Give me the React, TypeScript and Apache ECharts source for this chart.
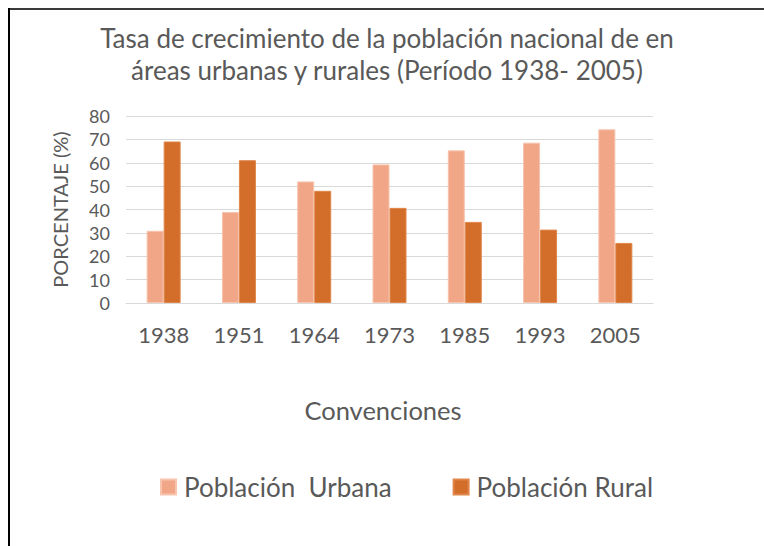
import React, { useEffect, useRef } from "react";
import * as echarts from "echarts";

const categories = ["1938", "1951", "1964", "1973", "1985", "1993", "2005"];
const urbanValues = [30.9, 38.9, 52.0, 59.3, 65.3, 68.6, 74.3];
const ruralValues = [69.1, 61.1, 48.0, 40.7, 34.7, 31.4, 25.7];
const seriesNames = ["Población  Urbana", "Población Rural"];
const yTicks = { min: 0, max: 80, interval: 10 };

const FONT = "Lato, 'Liberation Sans', sans-serif";
const TEXT = "#595959";

export default function App() {
  const ref = useRef<HTMLDivElement>(null);
  useEffect(() => {
    if (!ref.current) return;
    const chart = echarts.init(ref.current, undefined, { renderer: "svg" });
    chart.setOption({
      animation: false,
      backgroundColor: "#ffffff",
      textStyle: { fontFamily: FONT, color: TEXT },
      title: {
        text: "Tasa de crecimiento de la población nacional de en\náreas urbanas y rurales (Período 1938- 2005)",
        left: 382,
        top: 17,
        textAlign: "center",
        textStyle: {
          fontFamily: FONT,
          fontSize: 26,
          fontWeight: "normal",
          color: TEXT,
          lineHeight: 32,
        },
      },
      grid: { left: 126, right: 111, top: 116, height: 187, containLabel: false },
      legend: {
        data: seriesNames,
        left: 160,
        top: 474,
        padding: 0,
        icon: "rect",
        itemWidth: 15,
        itemHeight: 15,
        itemGap: 61,
        textStyle: {
          fontFamily: FONT,
          fontSize: 26,
          color: TEXT,
          padding: [0, 0, 0, 3],
        },
      },
      xAxis: {
        type: "category",
        data: categories,
        name: "Convenciones",
        nameLocation: "middle",
        nameGap: 94,
        nameTextStyle: { fontFamily: FONT, fontSize: 25.5, color: TEXT, padding: [0, 13, 0, 0] },
        axisLine: { lineStyle: { color: "#d9d9d9", width: 1 } },
        axisTick: { show: false },
        axisLabel: { fontFamily: FONT, fontSize: 22, color: TEXT, margin: 20 },
      },
      yAxis: {
        type: "value",
        min: yTicks.min,
        max: yTicks.max,
        interval: yTicks.interval,
        name: "PORCENTAJE (%)",
        nameLocation: "middle",
        nameRotate: 90,
        nameGap: 56,
        nameTextStyle: { fontFamily: FONT, fontSize: 20, color: TEXT },
        axisLine: { show: false },
        axisTick: { show: false },
        splitLine: { lineStyle: { color: "#d9d9d9", width: 1 } },
        axisLabel: { fontFamily: FONT, fontSize: 18, color: TEXT, margin: 16 },
      },
      series: [
        {
          name: seriesNames[0],
          type: "bar",
          data: urbanValues,
          barWidth: 17,
          barGap: "0%",
          itemStyle: { color: "#F1A688", borderColor: "#F7C4AD", borderWidth: 1 },
        },
        {
          name: seriesNames[1],
          type: "bar",
          data: ruralValues,
          barWidth: 17,
          barGap: "0%",
          itemStyle: { color: "#D26D2A", borderColor: "#E0864A", borderWidth: 1 },
        },
      ],
      graphic: [
        {
          type: "rect",
          shape: { x: 8, y: 8, width: 756, height: 2 },
          style: { fill: "#3a3a3a" },
          silent: true,
        },
        {
          type: "rect",
          shape: { x: 8, y: 8, width: 2, height: 538 },
          style: { fill: "#000000" },
          silent: true,
        },
      ],
    });
    return () => chart.dispose();
  }, []);
  return (
    <div
      ref={ref}
      style={{ position: "absolute", left: 0, top: 0, width: 764, height: 546 }}
    />
  );
}
